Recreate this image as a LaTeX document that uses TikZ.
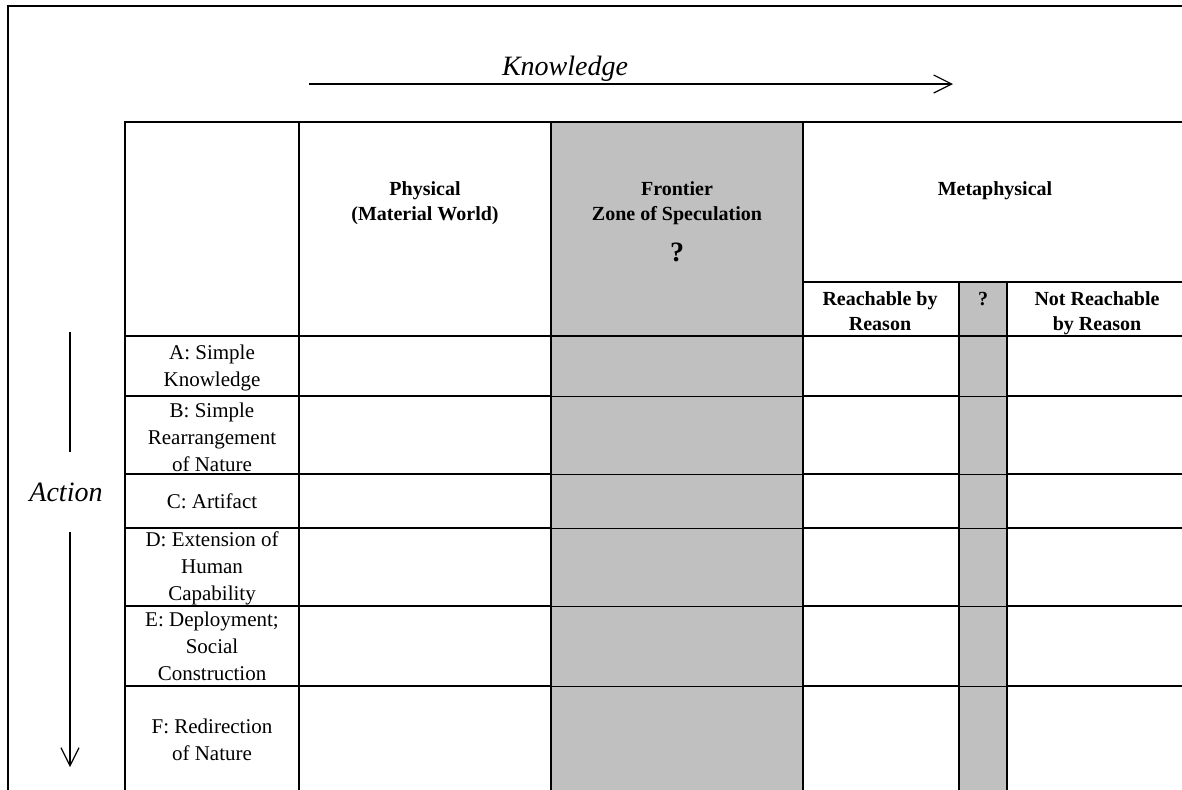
\documentclass[tikz,border=0pt]{standalone}
\usepackage{fontspec}
\setmainfont{Liberation Serif}
\usetikzlibrary{arrows.meta,positioning}
\definecolor{zone}{HTML}{C0C0C0}
\definecolor{ink}{HTML}{000000}
\tikzset{
  >=Latex,
  grid/.style={draw=ink,line width=0.7pt},
  thinrule/.style={draw=ink,line width=0.35pt},
  axis/.style={draw=ink,line width=0.6pt},
  axisarr/.style={axis,-{Straight Barb[length=9pt,width=9pt]}},
  axislabel/.style={font=\fontsize{14}{16}\selectfont\itshape,inner sep=1pt},
  rowlabel/.style={font=\fontsize{10.5}{13.5}\selectfont,align=center,inner sep=0pt},
  colhead/.style={font=\fontsize{10}{12.5}\selectfont\bfseries,align=center,inner sep=0pt},
  qmark/.style={font=\fontsize{14}{16}\selectfont\bfseries,inner sep=0pt},
}

\begin{document}
\begin{tikzpicture}[x=0.5pt,y=-0.5pt]
\useasboundingbox (0,0) rectangle (1182,789);
\clip (0,0) rectangle (1182,789);

% shaded zones
\fill[zone] (551,122) rectangle (803,800);
\fill[zone] (959,282) rectangle (1007,800);

% outer frame
\draw[grid] (8,800) -- (8,6) -- (1190,6);

% table rules
\draw[grid] (125,800) -- (125,122) -- (1190,122);
\draw[grid] (299,122) -- (299,800);
\draw[grid] (551,122) -- (551,800);
\draw[grid] (803,122) -- (803,800);
\draw[grid] (803,282) -- (1190,282);
\draw[grid] (959,282) -- (959,800);
\draw[grid] (1007,282) -- (1007,800);
\draw[grid] (125,336) -- (1190,336);
\foreach \y in {396,474,528,606,686} {
  \draw[grid] (125,\y) -- (551,\y);
  \draw[thinrule] (551,\y) -- (803,\y);
  \draw[grid] (803,\y) -- (959,\y);
  \draw[thinrule] (959,\y) -- (1007,\y);
  \draw[grid] (1007,\y) -- (1190,\y);
}

% column heads
\node[colhead] (physical) at (425,203) {Physical\\(Material World)};
\node[colhead] (frontier) at (677,203) {Frontier\\Zone of Speculation};
\node[qmark] (frontierq) at (677,252) {?};
\node[colhead,anchor=base] (meta) at (995,195) {Metaphysical};
\node[colhead] (reach) at (880,311) {Reachable by\\Reason};
\node[colhead,anchor=base] (metaq) at (983,305) {?};
\node[colhead] (noreach) at (1097,313) {Not Reachable\\by Reason};

% row heads
\foreach \name/\yy/\txt in {rowA/368/{A: Simple\\Knowledge},
    rowB/437/{B: Simple\\Rearrangement\\of Nature},
    rowC/501/{C: Artifact},
    rowD/568/{D: Extension of\\Human\\Capability},
    rowE/646/{E: Deployment;\\Social\\Construction},
    rowF/740/{F: Redirection\\of Nature}}
  \node[rowlabel] (\name) at (212,\yy) {\txt};

% axes
\node[axislabel,anchor=base] (knowledge) at (565,75) {Knowledge};
\coordinate (kstart) at (309,84);
\coordinate (kend) at (953,84);
\draw[axisarr] (kstart) -- (kend);

\node[axislabel,anchor=base] (action) at (66,501) {Action};
\coordinate (atop) at (70,332);
\coordinate (aend) at (70,767);
\draw[axis] (atop) -- ([yshift=14pt]action.north -| atop);
\draw[axisarr] ([yshift=-14pt]action.south -| atop) -- (aend);

\end{tikzpicture}
\end{document}
